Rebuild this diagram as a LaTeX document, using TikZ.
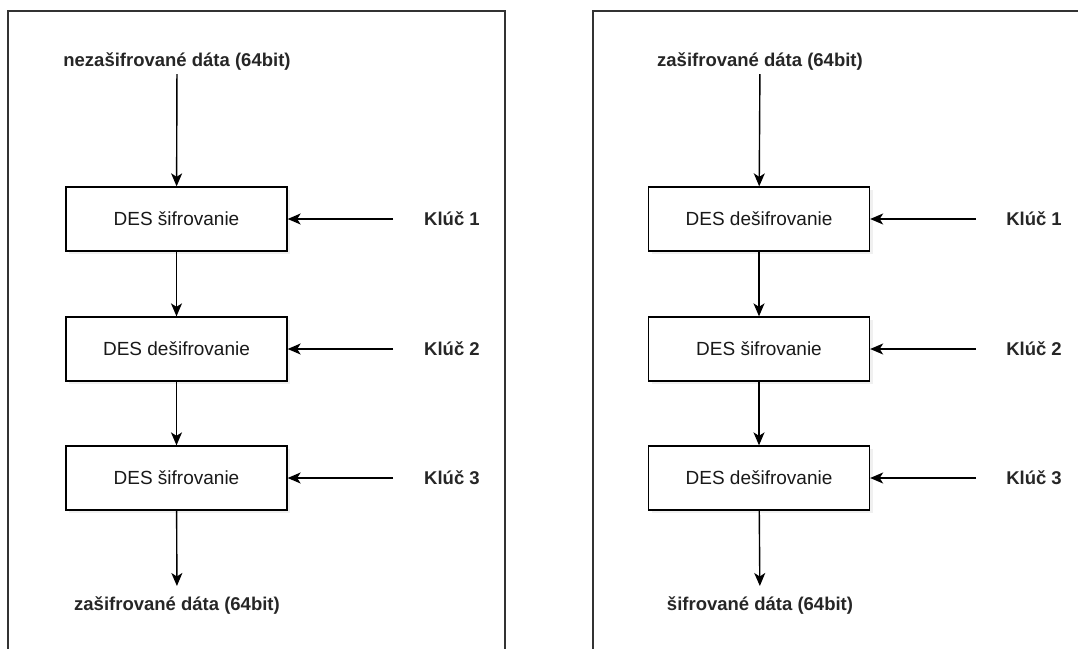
\documentclass[tikz,border=0pt]{standalone}
\usepackage{fontspec}
\setmainfont{Liberation Sans}
\usetikzlibrary{arrows.meta,shadows}
\begin{document}
\begin{tikzpicture}[x=1pt,y=-1pt,
  frame/.style={draw=black!80,line width=1.5pt},
  desbox/.style={draw=black,line width=1.3pt,fill=white,minimum width=221pt,minimum height=64pt,
    inner sep=0pt,font=\fontsize{19}{22}\selectfont,text=black!90,
    drop shadow={opacity=0.12,shadow xshift=3pt,shadow yshift=-3pt}},
  lbl/.style={font=\fontsize{18.5}{22}\bfseries\selectfont,text=black!85,inner sep=3pt},
  arr/.style={draw=black,line width=1.4pt,-{Stealth[length=13pt,width=11pt,inset=3.5pt]}}
]
\useasboundingbox (0,0) rectangle (1078,648);
\begin{scope}
\clip (0,0) rectangle (1078,648);
% two panels, running past the page edges
\draw[frame] (8,11) rectangle (505,670);
\draw[frame] (593,11) rectangle (1100,670);

% ---- triple DES encryption ----
\node[lbl] (inL) at (177,62) {nezašifrované dáta (64bit)};
\node[desbox] (l1) at (176.5,219) {DES šifrovanie};
\node[desbox] (l2) at (176.5,349) {DES dešifrovanie};
\node[desbox] (l3) at (176.5,478) {DES šifrovanie};
\node[lbl] (outL) at (177,606) {zašifrované dáta (64bit)};
\node[lbl] (kl1) at (452,219) {Klúč 1};
\node[lbl] (kl2) at (452,349) {Klúč 2};
\node[lbl] (kl3) at (452,478) {Klúč 3};
\draw[arr] (inL) -- (l1);
\draw[arr] (l1) -- (l2);
\draw[arr] (l2) -- (l3);
\draw[arr,shorten >=8pt] (l3) -- (outL);
\foreach \k/\b in {kl1/l1,kl2/l2,kl3/l3}
  \draw[arr,shorten <=28pt] (\k) -- (\b);

% ---- triple DES decryption ----
\node[lbl] (inR) at (760,62) {zašifrované dáta (64bit)};
\node[desbox] (r1) at (759,219) {DES dešifrovanie};
\node[desbox] (r2) at (759,349) {DES šifrovanie};
\node[desbox] (r3) at (759,478) {DES dešifrovanie};
\node[lbl] (outR) at (760,606) {šifrované dáta (64bit)};
\node[lbl] (kr1) at (1034,219) {Klúč 1};
\node[lbl] (kr2) at (1034,349) {Klúč 2};
\node[lbl] (kr3) at (1034,478) {Klúč 3};
\draw[arr] (inR) -- (r1);
\draw[arr] (r1) -- (r2);
\draw[arr] (r2) -- (r3);
\draw[arr,shorten >=8pt] (r3) -- (outR);
\foreach \k/\b in {kr1/r1,kr2/r2,kr3/r3}
  \draw[arr,shorten <=27pt] (\k) -- (\b);
\end{scope}
\end{tikzpicture}
\end{document}
